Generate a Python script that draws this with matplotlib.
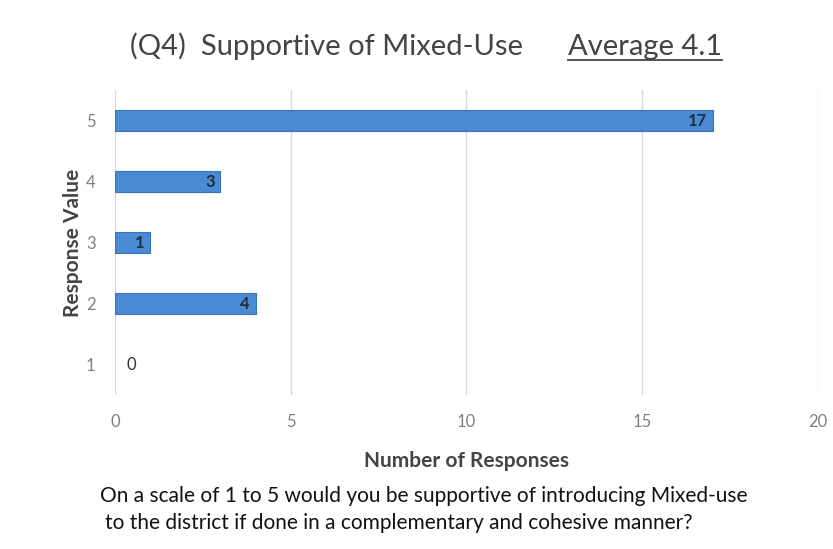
import matplotlib.pyplot as plt

# Q4 responses
responses = [1, 2, 3, 4, 5]
counts = [0, 4, 1, 3, 17]
x_ticks = [0, 5, 10, 15, 20]

plt.rcParams['font.family'] = ['Lato', 'DejaVu Sans']

fig = plt.figure(figsize=(8.33, 5.49), dpi=100)
ax = fig.add_axes([0.138, 0.2805, 0.844, 0.5555])

edge_widths = [0.8 if c > 0 else 0 for c in counts]
ax.barh(responses, counts, height=0.33, color='#4a8bd6', edgecolor='#3a72b8', linewidth=edge_widths, zorder=3)

for r, c in zip(responses, counts):
    if c > 0:
        ax.annotate(str(c), (c, r), xytext=(-4, 0), textcoords='offset points',
                    ha='right', va='center', fontsize=12, fontweight='bold', color='#1f2d3d', zorder=4)
    else:
        ax.annotate(str(c), (c, r), xytext=(8, 0), textcoords='offset points',
                    ha='left', va='center', fontsize=12, color='#333333', zorder=4)

ax.set_xlim(0, 20)
ax.set_ylim(0.5, 5.5)
ax.set_xticks(x_ticks)
ax.set_yticks(responses)
ax.tick_params(axis='both', length=0, labelsize=12, labelcolor='#808080')
ax.tick_params(axis='x', pad=14)
ax.tick_params(axis='y', pad=14)
ax.grid(axis='x', color='#d9d9d9', linewidth=1, zorder=0)
for s in ax.spines.values():
    s.set_visible(False)

ax.set_xlabel('Number of Responses', fontsize=15, fontweight='bold', color='#444444', labelpad=15)
ax.set_ylabel('Response Value', fontsize=15, fontweight='bold', color='#444444', labelpad=2)

fig.text(0.156, 0.915, '(Q4)  Supportive of Mixed-Use', fontsize=21, color='#444444', va='center', ha='left')
avg = fig.text(0.867, 0.915, 'Average 4.1', fontsize=21, color='#444444', va='center', ha='right')

# underline under the average, sized from the text itself
fig.canvas.draw()
bb = avg.get_window_extent().transformed(fig.transFigure.inverted())
fig.lines.append(plt.Line2D([bb.x0, bb.x1], [bb.y0, bb.y0], transform=fig.transFigure,
                            color='#444444', linewidth=1.3))

fig.text(0.12, 0.097, 'On a scale of 1 to 5 would you be supportive of introducing Mixed-use', fontsize=15, color='#111111', va='center', ha='left')
fig.text(0.126, 0.048, 'to the district if done in a complementary and cohesive manner?', fontsize=15, color='#111111', va='center', ha='left')

fig.savefig('out.png', dpi=100, facecolor='white')
